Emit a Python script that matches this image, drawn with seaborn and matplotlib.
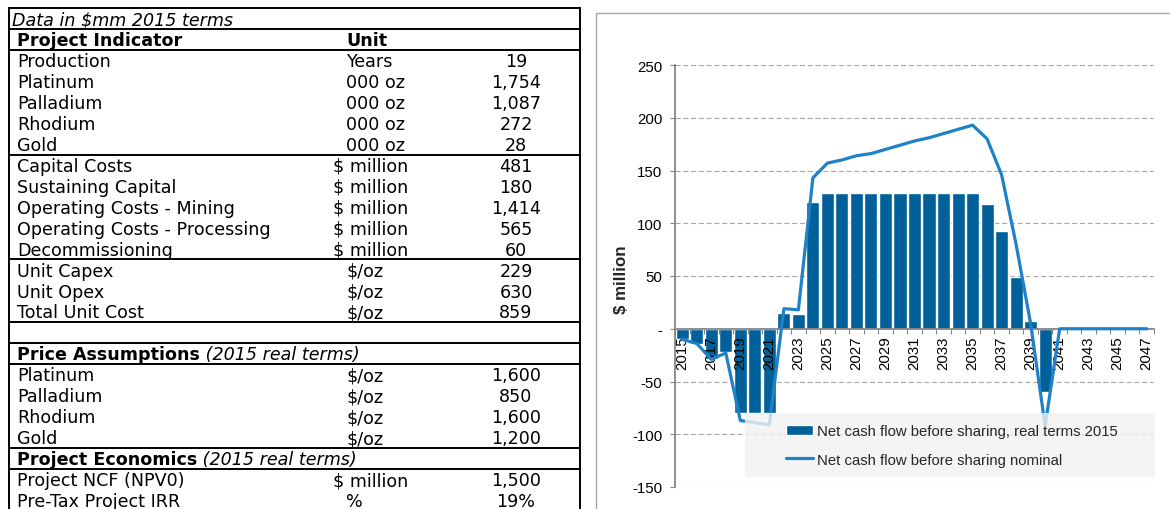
import numpy as np
import pandas as pd
import matplotlib
matplotlib.use("Agg")
import matplotlib.pyplot as plt
import seaborn as sns
from matplotlib.patches import Rectangle, Patch
from matplotlib.lines import Line2D

# ---- data ----
years = [str(y) for y in range(2015, 2048)]
real_ncf = [-10, -14, -29, -22, -80, -80, -80, 15, 14, 120,
            129, 129, 129, 129, 129, 129, 129, 129, 129, 129, 129,
            118, 93, 49, 7, -60,
            0, 0, 0, 0, 0, 0, 0]
nominal_ncf = [-10, -14, -29, -23, -87, -89, -91, 19, 18, 143,
               157, 160, 164, 166, 170, 174, 178, 181, 185, 189, 193,
               180, 146, 80, 5, -92,
               0, 0, 0, 0, 0, 0, 0]

indicator_rows = ["Production", "Platinum", "Palladium", "Rhodium", "Gold",
                  "Capital Costs", "Sustaining Capital", "Operating Costs - Mining",
                  "Operating Costs - Processing", "Decommissioning",
                  "Unit Capex", "Unit Opex", "Total Unit Cost"]
indicator_units = ["Years", "000 oz", "000 oz", "000 oz", "000 oz",
                   "$ million", "$ million", "$ million", "$ million", "$ million",
                   "$/oz", "$/oz", "$/oz"]
indicator_values = ["19", "1,754", "1,087", "272", "28",
                    "481", "180", "1,414", "565", "60",
                    "229", "630", "859"]
price_rows = ["Platinum", "Palladium", "Rhodium", "Gold"]
price_units = ["$/oz", "$/oz", "$/oz", "$/oz"]
price_values = ["1,600", "850", "1,600", "1,200"]
econ_rows = ["Project NCF (NPV0)", "Pre-Tax Project IRR"]
econ_units = ["$ million", "%"]
econ_values = ["1,500", "19%"]

bar_col = "#00609A"
line_col = "#1F82C8"
axis_col = "#868686"

sns.set_style("white")
plt.rcParams["font.family"] = ["Liberation Sans", "DejaVu Sans"]

fig = plt.figure(figsize=(11.7, 5.1), dpi=100)

# ---- table (left) ----
tab = fig.add_axes([0, 0, 1, 1])
tab.set_xlim(0, 1170)
tab.set_ylim(510, 0)
tab.axis("off")

row_h = 20.95
top = 9
tfont = dict(family=["DejaVu Sans"], fontsize=12.6, color="black")


def base(i):
    return top + i * row_h + 16.2


def put_row(i, label, unit, value):
    tab.text(17, base(i), label, va="baseline", **tfont)
    ux = 333 if unit.startswith("$ ") else 346
    tab.text(ux, base(i), unit, va="baseline", **tfont)
    tab.text(516, base(i), value, va="baseline", ha="center", **tfont)


def put_header(i, bold, italic):
    t = tab.text(17, base(i), bold, va="baseline", fontweight="bold", **tfont)
    if italic:
        tab.annotate(" " + italic, xy=(1, 0), xycoords=t, ha="left", va="bottom",
                     fontstyle="italic", **tfont)


tab.text(12, base(0), "Data in $mm 2015 terms", va="baseline", fontstyle="italic", **tfont)
put_header(1, "Project Indicator", None)
tab.text(346, base(1), "Unit", va="baseline", fontweight="bold", **tfont)
for k, (lab, un, val) in enumerate(zip(indicator_rows, indicator_units, indicator_values)):
    put_row(2 + k, lab, un, val)
put_header(16, "Price Assumptions", "(2015 real terms)")
for k, (lab, un, val) in enumerate(zip(price_rows, price_units, price_values)):
    put_row(17 + k, lab, un, val)
put_header(21, "Project Economics", "(2015 real terms)")
for k, (lab, un, val) in enumerate(zip(econ_rows, econ_units, econ_values)):
    put_row(22 + k, lab, un, val)

# borders
tab.plot([9, 9], [top, 515], color="black", lw=1.4, solid_capstyle="projecting")
tab.plot([580, 580], [top, 515], color="black", lw=1.4, solid_capstyle="projecting")
tab.plot([9, 580], [top, top], color="black", lw=1.4)
for r in [0, 1, 6, 11, 14, 15, 16, 20, 21]:
    yy = top + (r + 1) * row_h
    tab.plot([9, 580], [yy, yy], color="black", lw=1.4)

# chart panel border
fig.add_artist(Rectangle((596 / 1170, -0.05), 1.0, 0.9725 + 0.05, transform=fig.transFigure,
                         fill=False, ec="#A6A6A6", lw=1.0))

# ---- chart (right) ----
ax = fig.add_axes([675 / 1170, 22 / 510, 479 / 1170, 422 / 510])
df = pd.DataFrame({"year": years, "real": real_ncf, "nominal": nominal_ncf})
sns.barplot(data=df, x="year", y="real", color=bar_col, saturation=1, width=0.9,
            ax=ax, zorder=2)
sns.lineplot(x=np.arange(len(df)), y=df["nominal"].values, color=line_col, lw=2.3,
             ax=ax, zorder=3)

ax.set_xlim(-0.5, len(years) - 0.5)
ax.set_ylim(-150, 250)
yt = list(range(-150, 251, 50))
ax.set_yticks(yt)
ax.set_yticklabels(["-" if v == 0 else str(v) for v in yt])
ax.set_xticks(range(0, len(years), 2))
ax.set_xticklabels(years[::2])
ax.set_xticks(np.arange(-0.5, len(years), 1), minor=True)
ax.set_xlabel("")
ax.set_ylabel("")

# dashed gridlines behind the bars
ax.grid(False)
for v in yt:
    if v != 0:
        ax.axhline(v, color="#A6A6A6", lw=0.8, ls=(0, (4.5, 2.5)), zorder=1)

for s in ["top", "right"]:
    ax.spines[s].set_visible(False)
ax.spines["bottom"].set_position(("data", 0))
for s in ["left", "bottom"]:
    ax.spines[s].set_color(axis_col)
    ax.spines[s].set_linewidth(1.3)
    ax.spines[s].set_zorder(2.5)
ax.xaxis.set_zorder(2.6)
ax.yaxis.set_zorder(2.6)

ax.tick_params(axis="x", which="major", bottom=True, length=0, pad=5,
               labelrotation=90, labelsize=10.8, labelcolor="black")
ax.tick_params(axis="x", which="minor", bottom=True, length=3.8, width=0.8,
               color=axis_col, direction="out")
ax.tick_params(axis="y", left=True, length=3.6, width=0.8, color=axis_col,
               direction="out", pad=5.5, labelsize=10.8, labelcolor="black")

fig.text(622 / 1170, (510 - 280) / 510, "$ million", rotation=90, ha="center",
         va="center", fontweight="bold", fontsize=12.2)

# legend
ax.add_patch(Rectangle((745 / 1170, 32 / 510), 410 / 1170, 64 / 510,
                       transform=fig.transFigure, facecolor="#F2F2F2",
                       edgecolor="none", alpha=0.8, zorder=5, clip_on=False))
handles = [Patch(facecolor=bar_col, label="Net cash flow before sharing, real terms 2015"),
           Line2D([0], [0], color=line_col, lw=2.3, label="Net cash flow before sharing nominal")]
leg = ax.legend(handles=handles, loc="center left",
                bbox_to_anchor=(786 / 1170, (510 - 446.5) / 510),
                bbox_transform=fig.transFigure, frameon=False, fontsize=10.7,
                handlelength=1.85, handleheight=0.65, handletextpad=0.25,
                labelspacing=0.95, borderpad=0, borderaxespad=0)
leg.set_zorder(6)

fig.savefig("out.png", dpi=100)
